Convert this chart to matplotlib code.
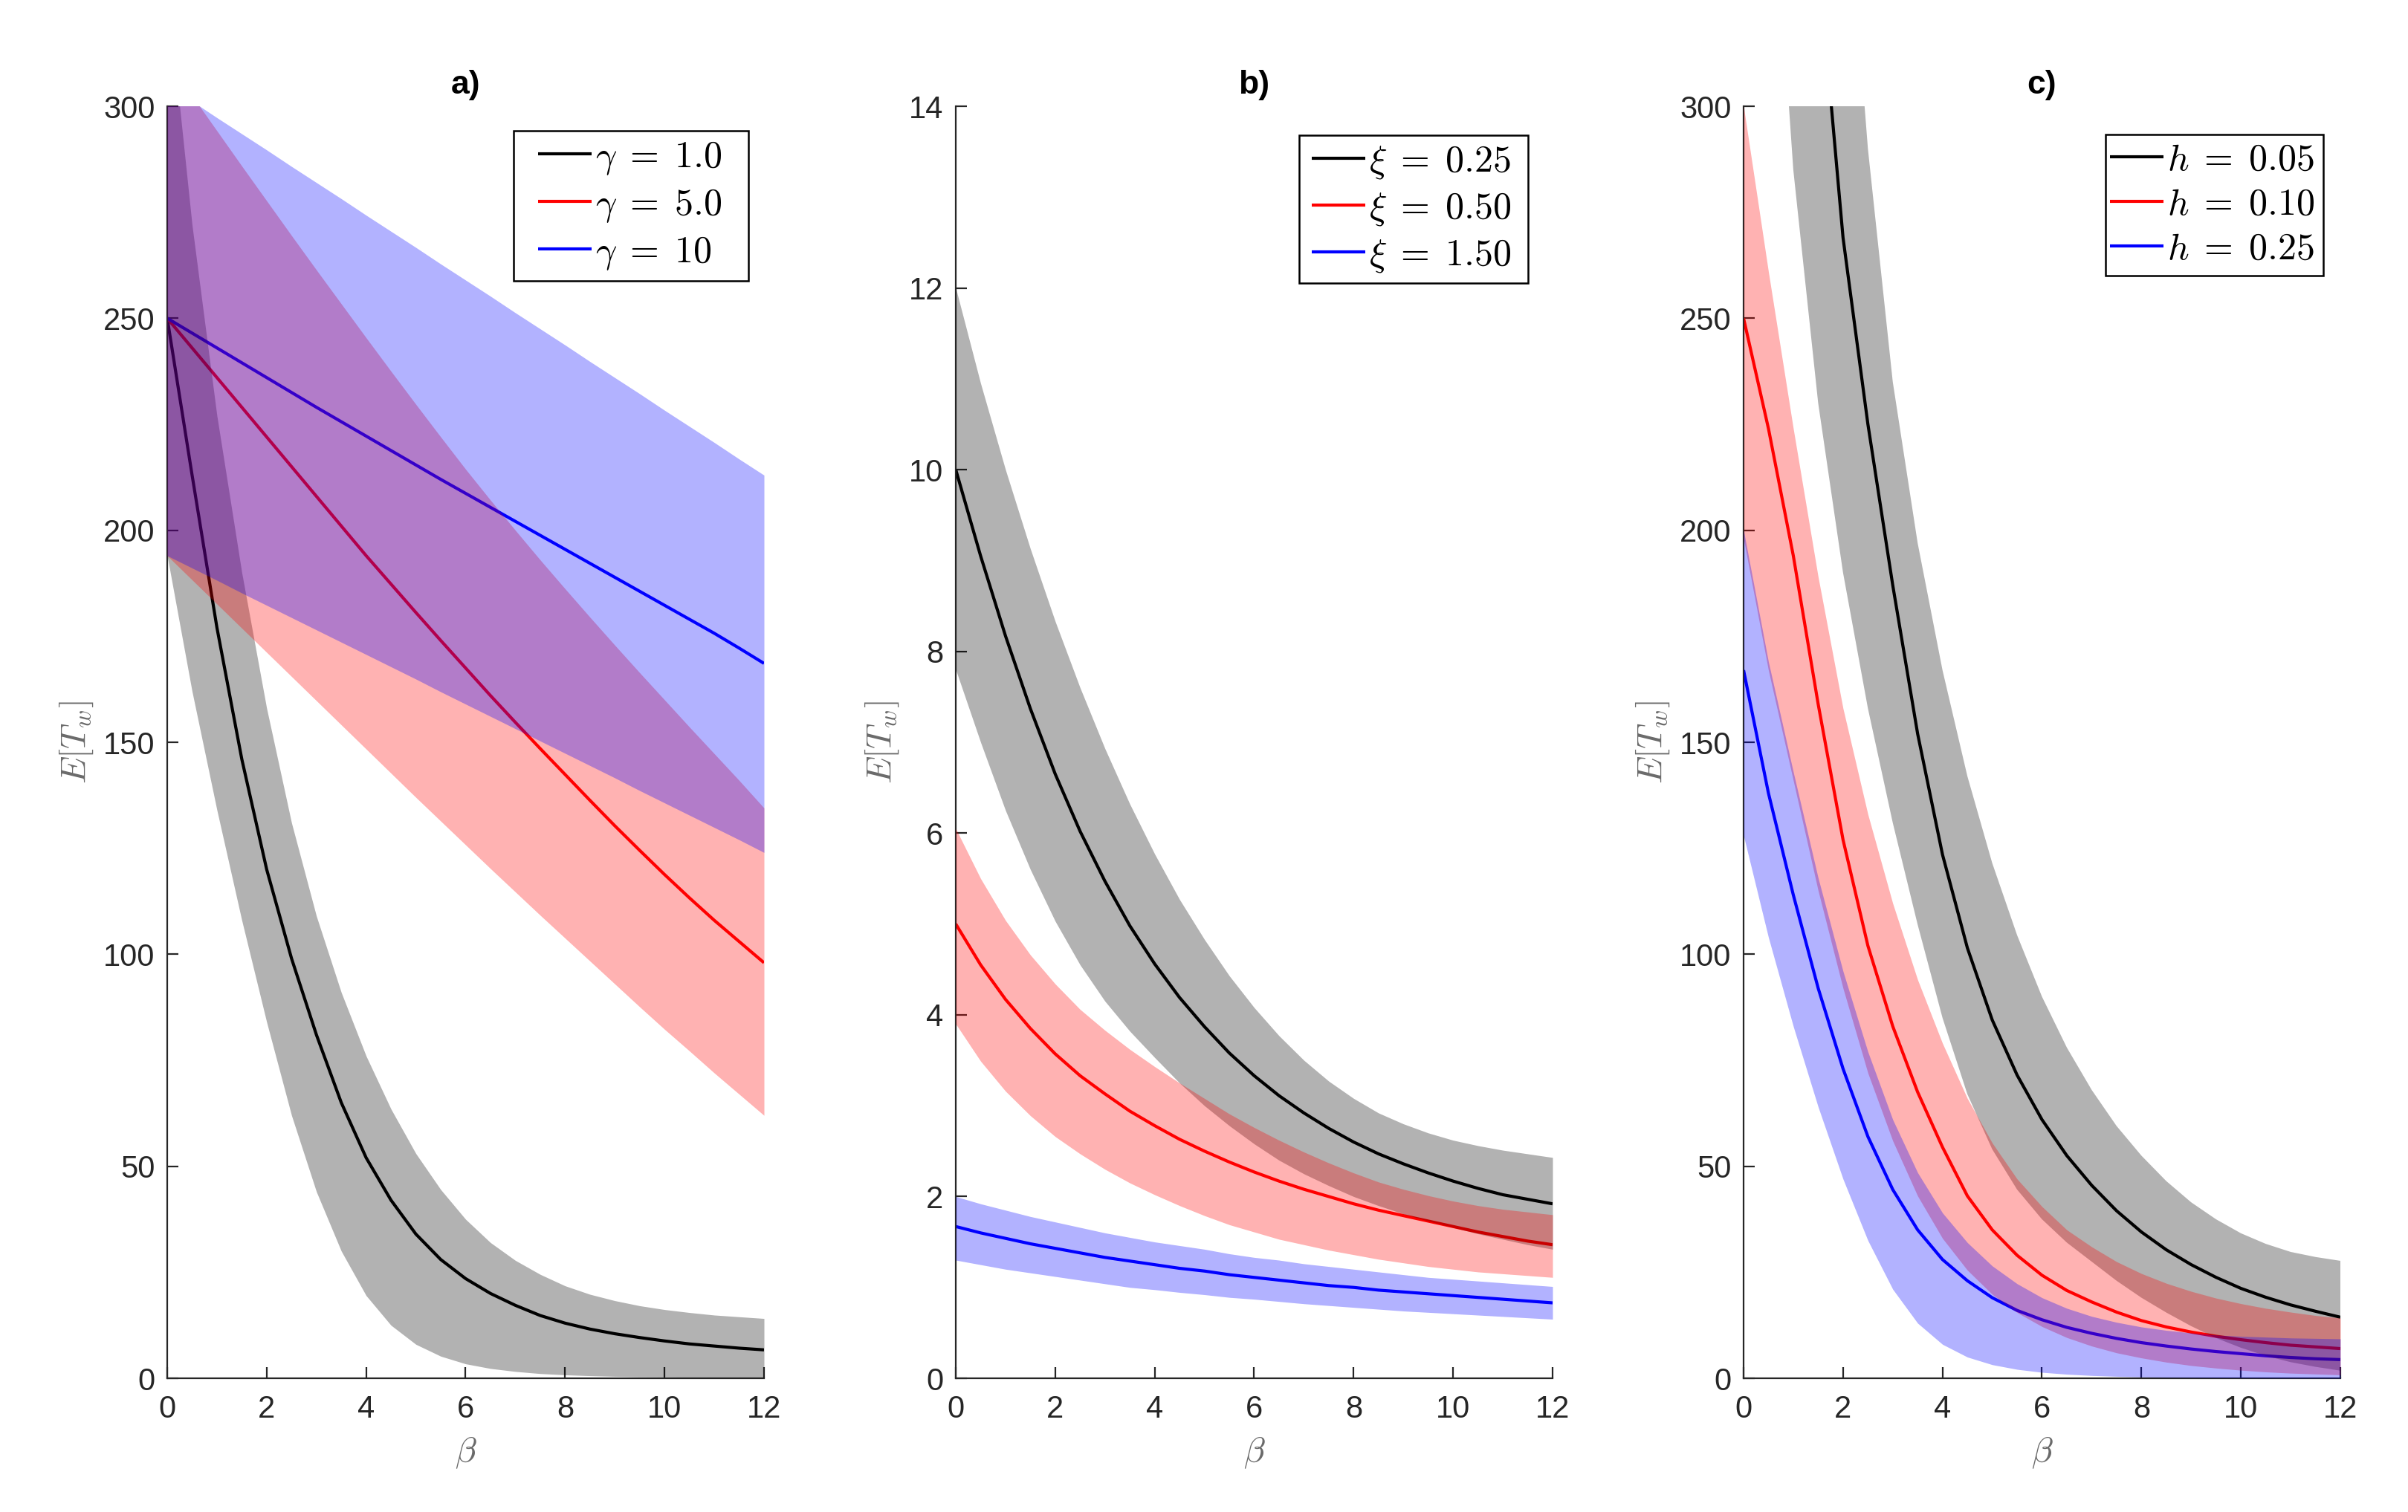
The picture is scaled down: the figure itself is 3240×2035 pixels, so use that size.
import matplotlib
matplotlib.use('Agg')
import matplotlib.pyplot as plt
from matplotlib.path import Path
import numpy as np

nan = np.nan

# ---------------- data ----------------
BETA = [0, 0.5, 1, 1.5, 2, 2.5, 3, 3.5, 4, 4.5, 5, 5.5, 6,
        6.5, 7, 7.5, 8, 8.5, 9, 9.5, 10, 10.5, 11, 11.5, 12]

# panel a)  gamma
a_labels = [r'$\gamma\;=\;1.0$', r'$\gamma\;=\;5.0$', r'$\gamma\;=\;10$']
a_black = [250, 213, 177, 146, 120, 99, 81, 65, 52, 42, 34, 28, 23.5,
           20, 17.2, 14.8, 13, 11.6, 10.5, 9.6, 8.8, 8.1, 7.6, 7.1, 6.7]
a_black_hi = [328, 272, 227, 190, 158, 131, 109, 91, 76, 63.5, 53, 44.5, 37.5,
              32, 27.8, 24.5, 21.8, 19.8, 18.3, 17.1, 16.2, 15.5, 14.9, 14.5, 14.1]
a_black_lo = [194, 162, 134, 108, 84, 62, 44, 30, 19.5, 12.5, 8, 5.2, 3.4,
              2.3, 1.6, 1.1, 0.8, 0.6, 0.45, 0.35, 0.3, 0.25, 0.2, 0.17, 0.15]
a_red = [250, 243, 236, 229, 222, 215, 208, 201, 194, 187.3, 180.6, 174, 167.5,
         161, 154.7, 148.5, 142.4, 136.3, 130.3, 124.5, 118.8, 113.3, 108, 103, 98]
a_red_hi = [311, 302.5, 294.2, 285.9, 277.7, 269.5, 261.4, 253.4, 245.4, 237.5, 229.7, 222, 214.4,
            207.1, 200, 193, 186.2, 179.5, 172.9, 166.4, 160, 153.6, 147.3, 141, 134.5]
a_red_lo = [194, 188.3, 182.6, 176.9, 171.2, 165.5, 159.8, 154.1, 148.4, 142.7, 137, 131.4, 125.8,
            120.2, 114.7, 109.2, 103.8, 98.4, 93, 87.6, 82.3, 77.2, 72, 67, 62]
a_blue = [250, 246.5, 243, 239.5, 236, 232.5, 229, 225.6, 222.2, 218.8, 215.4, 212, 208.7,
          205.4, 202.1, 198.8, 195.5, 192.2, 188.9, 185.6, 182.3, 179, 175.7, 172.2, 168.6]
a_blue_hi = [305, 301.2, 297.3, 293.5, 289.7, 285.8, 282, 278.2, 274.3, 270.5, 266.7, 262.8, 259,
             255.2, 251.3, 247.5, 243.7, 239.8, 236, 232.2, 228.3, 224.5, 220.7, 216.8, 213]
a_blue_lo = [194, 191.1, 188.2, 185.2, 182.3, 179.4, 176.5, 173.6, 170.7, 167.8, 164.9, 161.9, 159,
             156.1, 153.2, 150.3, 147.4, 144.5, 141.6, 138.6, 135.7, 132.8, 129.9, 127, 124]

# panel b)  xi
b_labels = [r'$\xi\;=\;0.25$', r'$\xi\;=\;0.50$', r'$\xi\;=\;1.50$']
b_black = [10, 9.05, 8.17, 7.37, 6.65, 6.02, 5.47, 4.98, 4.56, 4.19, 3.87, 3.58, 3.33,
           3.11, 2.92, 2.75, 2.6, 2.47, 2.36, 2.26, 2.17, 2.09, 2.02, 1.97, 1.92]
b_black_hi = [12, 10.95, 10.0, 9.13, 8.33, 7.6, 6.93, 6.32, 5.77, 5.27, 4.83, 4.43, 4.08,
              3.77, 3.5, 3.27, 3.08, 2.92, 2.8, 2.7, 2.62, 2.56, 2.51, 2.47, 2.43]
b_black_lo = [7.8, 7.0, 6.25, 5.6, 5.03, 4.55, 4.15, 3.82, 3.53, 3.25, 3.0, 2.78, 2.58,
              2.4, 2.25, 2.12, 2.0, 1.9, 1.81, 1.73, 1.66, 1.59, 1.53, 1.47, 1.42]
b_red = [5.0, 4.55, 4.17, 3.85, 3.57, 3.33, 3.13, 2.94, 2.78, 2.63, 2.5, 2.38, 2.27,
         2.17, 2.08, 2.0, 1.92, 1.85, 1.79, 1.73, 1.67, 1.61, 1.56, 1.51, 1.47]
b_red_hi = [6.05, 5.5, 5.04, 4.66, 4.34, 4.06, 3.83, 3.62, 3.43, 3.25, 3.08, 2.91, 2.76,
            2.62, 2.49, 2.37, 2.26, 2.16, 2.08, 2.01, 1.95, 1.9, 1.86, 1.83, 1.8]
b_red_lo = [3.9, 3.49, 3.16, 2.89, 2.66, 2.47, 2.3, 2.15, 2.02, 1.9, 1.79, 1.69, 1.61,
            1.53, 1.47, 1.41, 1.36, 1.31, 1.27, 1.23, 1.2, 1.17, 1.15, 1.13, 1.11]
b_blue = [1.67, 1.6, 1.54, 1.48, 1.43, 1.38, 1.33, 1.29, 1.25, 1.21, 1.18, 1.14, 1.11,
          1.08, 1.05, 1.02, 1.0, 0.97, 0.95, 0.93, 0.91, 0.89, 0.87, 0.85, 0.83]
b_blue_hi = [2.0, 1.92, 1.85, 1.78, 1.72, 1.66, 1.6, 1.55, 1.5, 1.46, 1.42, 1.37, 1.33,
             1.3, 1.26, 1.23, 1.2, 1.17, 1.14, 1.11, 1.09, 1.07, 1.05, 1.03, 1.01]
b_blue_lo = [1.3, 1.25, 1.2, 1.16, 1.12, 1.08, 1.04, 1.0, 0.975, 0.945, 0.92, 0.89, 0.87,
             0.845, 0.82, 0.8, 0.78, 0.76, 0.74, 0.725, 0.71, 0.695, 0.68, 0.665, 0.65]

# panel c)  h
c_labels = [r'$h\;=\;0.05$', r'$h\;=\;0.10$', r'$h\;=\;0.25$']
c_black = [nan, nan, nan, 335, 269, 225, 187, 152, 123.5, 101.5, 84.5, 71.5, 61,
           52.5, 45.5, 39.5, 34.5, 30.3, 26.8, 23.8, 21.2, 19.1, 17.3, 15.8, 14.4]
c_black_hi = [nan, 650, 520, 440, 365, 290, 235, 197, 167, 142, 121.5, 104.5, 90,
              78, 68, 59.5, 52.5, 46.5, 41.5, 37.5, 34.2, 31.7, 29.8, 28.6, 27.7]
c_black_lo = [nan, 370, 285, 230, 190, 158, 131, 107, 85, 67, 54, 44.5, 37.5,
              32, 27.5, 23, 19, 15.5, 12.3, 9.5, 7.2, 5.3, 3.8, 2.7, 1.8]
c_red = [250, 224, 194, 159, 127, 102, 83, 67.5, 54.5, 43, 35, 29, 24.3,
         20.7, 18, 15.6, 13.6, 12.1, 10.9, 9.9, 9.1, 8.4, 7.8, 7.4, 7.0]
c_red_hi = [300, 261, 224, 189, 158, 133, 112, 94, 79, 66, 55.5, 47, 40.5,
            35, 31, 27.5, 24.7, 22.4, 20.5, 18.9, 17.6, 16.5, 15.6, 14.8, 14.2]
c_red_lo = [198, 167, 141, 115, 92, 72, 56, 43, 33, 25.5, 19.8, 15.5, 12.2,
            9.6, 7.6, 6.0, 4.8, 3.8, 3.0, 2.4, 1.9, 1.5, 1.2, 1.0, 0.8]
c_blue = [167, 138, 114, 92, 73, 57, 44.5, 35, 28, 23, 19, 16, 13.8,
          12, 10.6, 9.4, 8.4, 7.6, 6.9, 6.3, 5.8, 5.3, 4.9, 4.6, 4.4]
c_blue_hi = [200, 169, 143, 118, 96, 77, 61, 48.5, 39, 32, 26.5, 22.3, 19,
             16.5, 14.6, 13.2, 12.1, 11.3, 10.7, 10.2, 9.9, 9.7, 9.5, 9.4, 9.3]
c_blue_lo = [128, 104, 83, 64, 47, 32.5, 21, 13, 8, 5, 3.2, 2.1, 1.4,
             0.95, 0.65, 0.45, 0.3, 0.2, 0.15, 0.1, 0.07, 0.05, 0.03, 0.02, 0]

XTICKS = [0, 2, 4, 6, 8, 10, 12]

# ---------------- style ----------------
plt.rcParams['mathtext.fontset'] = 'cm'
plt.rcParams['font.family'] = ['Liberation Sans', 'DejaVu Sans']

W, H = 3241, 2035
fig = plt.figure(figsize=(W / 200, H / 200), dpi=200)

AX_W = 803 / W
AX_B = 1 - 1855 / H
AX_H = 1712 / H
lefts = [225 / W, 1286 / W, 2346 / W]

AXC = '#262626'
LABC = '#6a6a6a'
COLS = ['#000000', '#ff0000', '#0000ff']


def frame_style(l_em, r_em):
    """Rectangular legend frame with separate left/right padding."""
    def box(x0, y0, width, height, mutation_size):
        xa = x0 - l_em * mutation_size
        xb = x0 + width + r_em * mutation_size
        ya, yb = y0, y0 + height
        return Path([(xa, ya), (xb, ya), (xb, yb), (xa, yb), (xa, ya)],
                    closed=True)
    return box


def panel(ax, series, labels, title, ymax, yticks, leg_anchor, pads):
    beta = np.array(BETA, dtype=float)
    handles = []
    for (m, lo, hi), c, lab in zip(series, COLS, labels):
        h, = ax.plot(beta, np.array(m, dtype=float), color=c, lw=1.5,
                     zorder=2, label=lab, solid_capstyle='butt',
                     solid_joinstyle='round')
        handles.append(h)
    for (m, lo, hi), c in zip(series, COLS):
        lo = np.array(lo, dtype=float)
        hi = np.array(hi, dtype=float)
        ok = ~(np.isnan(lo) | np.isnan(hi))
        ax.fill_between(beta[ok], lo[ok], hi[ok], color=c, alpha=0.3,
                        lw=0, zorder=3)
    ax.set_xlim(0, 12)
    ax.set_ylim(0, ymax)
    ax.set_xticks(XTICKS)
    ax.set_yticks(yticks)
    for s in ['top', 'right']:
        ax.spines[s].set_visible(False)
    for s in ['left', 'bottom']:
        ax.spines[s].set_color(AXC)
        ax.spines[s].set_linewidth(0.8)
    ax.tick_params(direction='in', length=5.5, width=0.8, color=AXC,
                   labelcolor=AXC, labelsize=15)
    ax.tick_params(axis='x', pad=8)
    ax.tick_params(axis='y', pad=6)
    ax.set_title(title, fontweight='bold', fontsize=16, pad=6, color='k')
    ax.set_xlabel(r'$\beta$', fontsize=17, color=LABC, labelpad=5)
    ax.set_ylabel(r'$E[T_w]$', fontsize=17, color=LABC, labelpad=4)
    leg = ax.legend(handles=handles, loc='upper right',
                    bbox_to_anchor=leg_anchor, bbox_transform=ax.transAxes,
                    borderaxespad=0, fontsize=18, handlelength=1.45,
                    handletextpad=0.1, borderpad=0.24, labelspacing=0.28,
                    fancybox=False, edgecolor='k', framealpha=1)
    frame = leg.get_frame()
    frame.set_linewidth(0.9)
    frame.set_boxstyle(frame_style(*pads))


axA = fig.add_axes([lefts[0], AX_B, AX_W, AX_H])
panel(axA, [(a_black, a_black_lo, a_black_hi), (a_red, a_red_lo, a_red_hi),
            (a_blue, a_blue_lo, a_blue_hi)], a_labels, 'a)', 300,
      [0, 50, 100, 150, 200, 250, 300], (0.945, 0.981), (0.42, 0.46))

axB = fig.add_axes([lefts[1], AX_B, AX_W, AX_H])
panel(axB, [(b_black, b_black_lo, b_black_hi), (b_red, b_red_lo, b_red_hi),
            (b_blue, b_blue_lo, b_blue_hi)], b_labels, 'b)', 14,
      [0, 2, 4, 6, 8, 10, 12, 14], (0.946, 0.977), (0.10, 0.20))

axC = fig.add_axes([lefts[2], AX_B, AX_W, AX_H])
panel(axC, [(c_black, c_black_lo, c_black_hi), (c_red, c_red_lo, c_red_hi),
            (c_blue, c_blue_lo, c_blue_hi)], c_labels, 'c)', 300,
      [0, 50, 100, 150, 200, 250, 300], (0.972, 0.978), (-0.12, -0.02))

fig.savefig('out.png', dpi=200)
